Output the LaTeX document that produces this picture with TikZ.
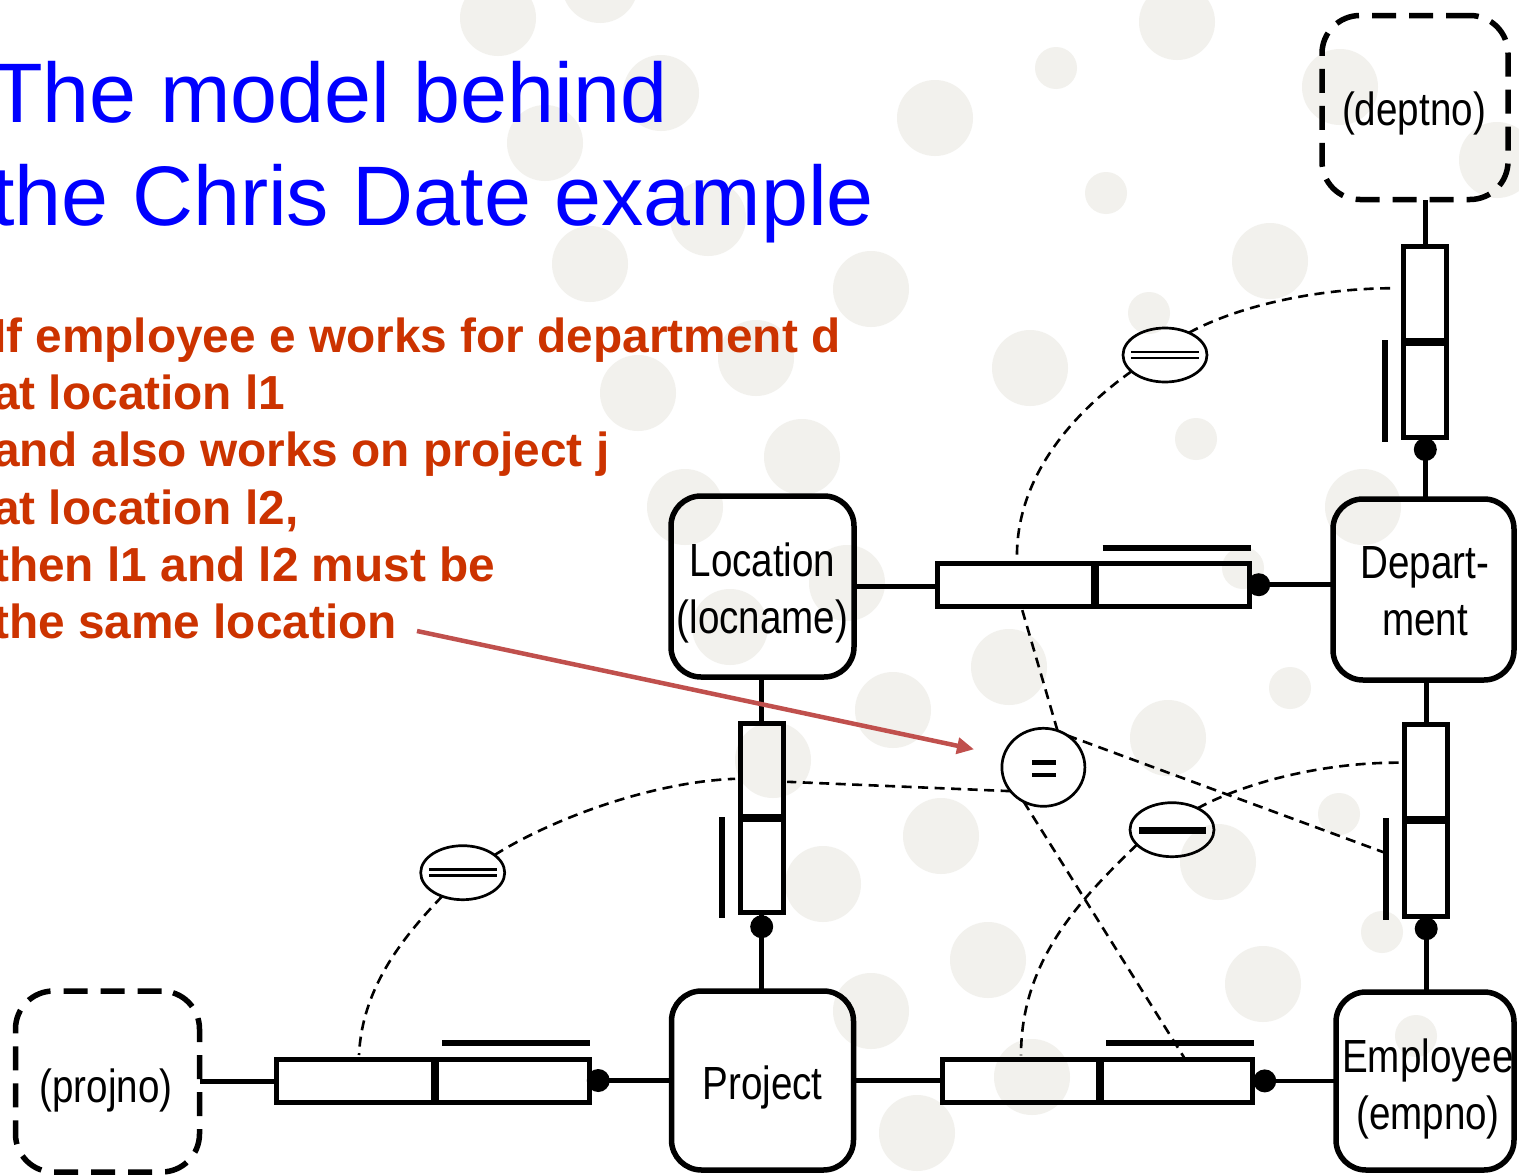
\documentclass[tikz,border=0pt]{standalone}
\usepackage{fontspec}
\setmainfont{Liberation Sans}
\newfontfamily\narrowfont[FakeStretch=0.83]{Liberation Sans}
\usetikzlibrary{shapes.geometric,arrows.meta,calc}
\definecolor{titleblue}{RGB}{0,0,255}
\definecolor{notered}{RGB}{204,51,0}
\definecolor{pointerred}{RGB}{192,80,77}
\definecolor{bgspot}{RGB}{242,241,237}
\begin{document}
\begin{tikzpicture}[x=1pt,y=-1pt,
  entity/.style={draw, line width=5.5pt, rounded corners=30pt, inner sep=0pt, outer sep=0pt},
  valuetype/.style={entity, rounded corners=38pt, dash pattern=on 24pt off 13pt},
  etext/.style={font=\narrowfont\fontsize{46.5}{56.5}\selectfont, align=center, inner sep=0pt},
  cell/.style={draw, line width=5pt, inner sep=0pt, outer sep=0pt},
  hcell/.style={cell, minimum height=43pt},
  vcell/.style={cell, minimum width=43pt},
  link/.style={line width=4.7pt},
  uniq/.style={line width=6pt},
  roledot/.style={fill=black},
  constraint/.style={draw, ellipse, line width=2.7pt, inner sep=0pt, outer sep=0pt},
  cline/.style={line width=2.6pt, dash pattern=on 10pt off 6.5pt},
  spot/.style={fill=bgspot},
  pointer/.style={draw=pointerred, line width=4.5pt, -{Triangle[length=17pt,width=16pt]}},
]
% canvas and clipping frame
\fill[white] (0,0) rectangle (1519,1175);
\clip (0,0) rectangle (1519,1175);

% decorative background spots
\foreach \cx/\cy in {498/18, 600/-15, 661/93, 545/143, 935/118, 1177/22, 1340/87, 1497/160,
  708/218, 590/264, 871/289, 1270/261, 756/358, 638/393, 1030/368, 802/457, 685/507,
  1363/507, 847/583, 730/627, 1009/667, 893/710, 1168/738, 773/760, 941/836, 823/884,
  1218/862, 988/960, 1263/984, 871/1011, 1032/1077, 917/1133}
  \fill[spot] (\cx,\cy) circle[radius=38pt];
\foreach \cx/\cy in {1056/68, 1106/193, 1149/313, 1196/439, 1243/568, 1290/688, 1339/814,
  1382/932, 1416/1036}
  \fill[spot] (\cx,\cy) circle[radius=21pt];

% heading and constraint statement
\node[anchor=north west, inner sep=0pt, align=left, text=titleblue,
      font=\fontsize{84.5}{102.3}\selectfont] (title) at (-9,61.5)
  {The model behind\\the Chris Date example};
\node[anchor=north west, inner sep=0pt, align=left, text=notered,
      font=\bfseries\fontsize{47.8}{57.3}\selectfont] (rule) at (-7,317.4)
  {If employee e works for department d\\at location l1\\and also works on project j\\at location l2,\\then l1 and l2 must be\\the same location};

% entity types
\node[entity, minimum width=183pt, minimum height=181pt] (loc) at (762.5,586.5) {};
\node[entity, minimum width=181pt, minimum height=181pt] (dept) at (1423.5,589.5) {};
\node[entity, minimum width=182pt, minimum height=179pt] (proj) at (762.5,1080.5) {};
\node[entity, minimum width=178pt, minimum height=178pt] (emp) at (1425,1081) {};
\node[valuetype, minimum width=186pt, minimum height=184pt] (deptno) at (1415,107.5) {};
\node[valuetype, minimum width=184pt, minimum height=181pt] (projno) at (107.5,1081.5) {};

\node[etext] (locT) at (762.5,593) {Location\\(locname)};
\node[etext] (deptT) at (1425,591) {Depart-\\ment};
\node[etext] (projT) at (762.5,1087) {Project};
\node[etext] (empT) at (1428,1089) {Employee\\(empno)};
\node[etext] (deptnoT) at (1414,113) {(deptno)};
\node[etext] (projnoT) at (106,1090) {(projno)};

% fact types: two role boxes each
\node[hcell, minimum width=156pt] (tbL) at (1015,584.7) {};
\node[hcell, minimum width=153.5pt] (tbR) at (1173,584.7) {};
\node[hcell, minimum width=156pt] (bbL) at (1020,1080.9) {};
\node[hcell, minimum width=151.5pt] (bbR) at (1177,1080.9) {};
\node[hcell, minimum width=156.5pt] (plL) at (355,1080.5) {};
\node[hcell, minimum width=152.5pt] (plR) at (513,1080.5) {};
\node[vcell, minimum height=93pt] (lpA) at (761.7,769.8) {};
\node[vcell, minimum height=93pt] (lpB) at (761.7,866.2) {};
\node[vcell, minimum height=94pt] (dbA) at (1425.3,293.2) {};
\node[vcell, minimum height=94pt] (dbB) at (1425.3,390.5) {};
\node[vcell, minimum height=93.5pt] (deA) at (1426.2,771.7) {};
\node[vcell, minimum height=95pt] (deB) at (1426.2,869.2) {};

% uniqueness bars
\draw[uniq] (1102.5,548.3) -- (1250.6,548.3);
\draw[uniq] (1106,1042.7) -- (1254.4,1042.7);
\draw[uniq] (442,1043.3) -- (590,1043.3);
\draw[uniq] (721.7,817) -- (721.7,918);
\draw[uniq] (1385,340) -- (1385,441.7);
\draw[uniq] (1386,818) -- (1386,920);

% role connectors
\draw[link] (loc.east) -- (loc.east -| tbL.west);
\draw[link] (tbR.east) -- (tbR.east -| dept.west);
\draw[link] (proj.east) -- (proj.east -| bbL.west);
\draw[link] (bbR.east) -- (bbR.east -| emp.west);
\draw[link] (projno.east) -- (projno.east -| plL.west);
\draw[link] (plR.east) -- (plR.east -| proj.west);
\draw[link] (lpA.north) -- (lpA.north |- loc.south);
\draw[link] (lpB.south) -- (lpB.south |- proj.north);
\draw[link] (dbA.north) -- (dbA.north |- deptno.south);
\draw[link] (dbB.south) -- (dbB.south |- dept.north);
\draw[link] (deA.north) -- (deA.north |- dept.south);
\draw[link] (deB.south) -- (deB.south |- emp.north);

% mandatory role dots
\fill[roledot] ([xshift=9pt]tbR.east) circle[radius=11.5pt];
\fill[roledot] ([xshift=12pt]bbR.east) circle[radius=11.5pt];
\fill[roledot] ([xshift=9pt]plR.east) circle[radius=11.5pt];
\fill[roledot] ([yshift=-14pt]lpB.south) circle[radius=11.5pt];
\fill[roledot] ([yshift=-12pt]dbB.south) circle[radius=11.5pt];
\fill[roledot] ([yshift=-12pt]deB.south) circle[radius=11.5pt];

% external constraints
\node[constraint, minimum width=83pt, minimum height=78pt] (eq) at (1043.4,767.3) {};
\node[constraint, minimum width=84pt, minimum height=54pt] (subD) at (1165,355) {};
\node[constraint, minimum width=84pt, minimum height=54pt] (subP) at (462.7,872.7) {};
\node[constraint, minimum width=84pt, minimum height=54pt] (uniqE) at (1172,829.7) {};

\draw[line width=4.8pt] (1032,762.5) -- (1056,762.5) (1032,775) -- (1056,775);
\draw[line width=2.7pt] (1131,352) -- (1199,352) (1131,358) -- (1199,358);
\draw[line width=2.7pt] (429,869.5) -- (497,869.5) (429,875.5) -- (497,875.5);
\draw[line width=6.5pt] (1139,830.5) -- (1206,830.5);

\coordinate (deSide) at (1391,855);
\draw[cline] (eq.69) -- ([xshift=7pt,yshift=-3pt]tbL.south);
\draw[cline] (eq.53) -- (deSide);
\draw[cline] (eq.216) -- ([xshift=4pt,yshift=-12pt]lpA.east);
\draw[cline] (eq.240) -- ([xshift=7pt,yshift=2pt]bbR.north);

\draw[cline] (subD.43) .. controls (1240,305) and (1320,288) .. ([xshift=-8pt,yshift=5pt]dbA.west);
\draw[cline] (subD.206) .. controls (1070,415) and (1015,480) .. ([xshift=2pt,yshift=3pt]tbL.north);
\draw[cline] (subP.29) .. controls (550,820) and (650,782) .. ([xshift=-5pt,yshift=-9pt]lpA.west);
\draw[cline] (subP.229) .. controls (400,940) and (362,990) .. ([xshift=4pt,yshift=4pt]plL.north);
\draw[cline] (uniqE.40) .. controls (1250,780) and (1330,762) .. ([xshift=-4pt,yshift=9pt]deA.west);
\draw[cline] (uniqE.203) .. controls (1080,900) and (1021,960) .. ([xshift=1pt,yshift=4pt]bbL.north);

% pointer from the statement to the equality constraint
\coordinate (ptrFrom) at (417,631);
\coordinate (ptrTo) at (974,749.3);
\draw[pointer] (ptrFrom) -- (ptrTo);
\end{tikzpicture}
\end{document}
